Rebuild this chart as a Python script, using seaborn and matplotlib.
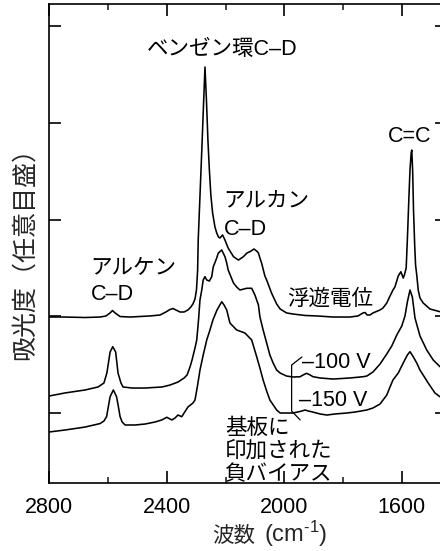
import matplotlib
matplotlib.use("Agg")
import matplotlib.pyplot as plt
from matplotlib.ticker import FixedLocator
import pandas as pd
import seaborn as sns

# IR absorbance spectra of deuterated films, offset vertically (arbitrary units)
# Floating potential
wn_float = [2800, 2747, 2678, 2627, 2607, 2593, 2585, 2576, 2559, 2525, 2457, 2423,
            2403, 2389, 2379, 2369, 2355, 2341, 2328, 2318, 2311, 2304, 2299, 2295,
            2293, 2287, 2280, 2275, 2270, 2265, 2260, 2255, 2250, 2244, 2236, 2230,
            2224, 2219, 2210, 2202, 2191, 2173, 2156, 2139, 2127, 2117, 2103, 2094,
            2088, 2083, 2077, 2066, 2060, 2043, 2026, 2014, 1992, 1970, 1929, 1888,
            1834, 1776, 1749, 1732, 1725, 1718, 1708, 1698, 1674, 1664, 1651, 1640,
            1630, 1623, 1612, 1603, 1595, 1590, 1585, 1581, 1576, 1572, 1568, 1566,
            1563, 1560, 1556, 1553, 1549, 1544, 1538, 1527, 1504, 1470, 1429]
abs_float = [0.992, 0.992, 0.987, 0.992, 1.003, 1.034, 1.059, 1.034, 0.997, 0.992, 1.003, 1.013,
             1.044, 1.070, 1.080, 1.065, 1.044, 1.044, 1.065, 1.096, 1.127, 1.178, 1.271, 1.478,
             1.788, 2.243, 2.780, 3.183, 3.576, 3.235, 2.822, 2.512, 2.253, 2.067, 1.922, 1.860,
             1.819, 1.809, 1.840, 1.788, 1.705, 1.616, 1.581, 1.616, 1.654, 1.667, 1.695, 1.674,
             1.654, 1.602, 1.547, 1.416, 1.375, 1.237, 1.127, 1.075, 1.034, 1.023, 1.008, 1.003,
             0.992, 0.992, 1.003, 1.034, 1.039, 1.013, 1.013, 1.034, 1.065, 1.085, 1.137, 1.209,
             1.271, 1.305, 1.416, 1.460, 1.395, 1.437, 1.499, 1.788, 2.202, 2.512, 2.687, 2.718,
             2.512, 2.098, 1.736, 1.530, 1.426, 1.271, 1.189, 1.137, 1.075, 1.047, 1.039]

# Substrate bias -100 V
wn_100 = [2800, 2747, 2678, 2634, 2614, 2604, 2593, 2584, 2574, 2566, 2556, 2549,
          2518, 2474, 2416, 2389, 2362, 2341, 2331, 2321, 2314, 2304, 2298, 2292,
          2287, 2281, 2276, 2270, 2264, 2255, 2247, 2242, 2230, 2225, 2213, 2202,
          2196, 2191, 2173, 2162, 2151, 2128, 2111, 2100, 2088, 2083, 2072, 2060,
          2049, 2038, 2026, 2014, 1992, 1970, 1946, 1936, 1924, 1912, 1902, 1878,
          1834, 1776, 1732, 1719, 1698, 1674, 1651, 1634, 1617, 1600, 1589, 1581,
          1572, 1564, 1555, 1538, 1515, 1493, 1470, 1429]
abs_100 = [0.176, 0.207, 0.238, 0.269, 0.310, 0.413, 0.630, 0.685, 0.630, 0.413, 0.310, 0.269,
           0.258, 0.258, 0.269, 0.289, 0.320, 0.362, 0.393, 0.475, 0.548, 0.672, 0.755, 0.961,
           1.168, 1.271, 1.375, 1.409, 1.375, 1.364, 1.409, 1.509, 1.602, 1.651, 1.685, 1.616,
           1.550, 1.478, 1.344, 1.302, 1.271, 1.289, 1.289, 1.220, 1.116, 0.995, 0.858, 0.724,
           0.599, 0.517, 0.444, 0.413, 0.382, 0.372, 0.375, 0.393, 0.410, 0.393, 0.375, 0.362,
           0.351, 0.362, 0.375, 0.382, 0.424, 0.506, 0.610, 0.693, 0.806, 0.899, 1.003, 1.147,
           1.271, 1.199, 0.982, 0.796, 0.651, 0.548, 0.479, 0.444]

# Substrate bias -150 V
wn_150 = [2800, 2747, 2678, 2627, 2614, 2605, 2598, 2593, 2582, 2571, 2564, 2559,
          2552, 2542, 2508, 2474, 2440, 2417, 2400, 2383, 2372, 2362, 2349, 2341,
          2328, 2311, 2304, 2295, 2287, 2276, 2264, 2253, 2243, 2229, 2213, 2205,
          2196, 2185, 2162, 2134, 2111, 2094, 2083, 2072, 2060, 2049, 2026, 2014,
          1992, 1970, 1946, 1929, 1919, 1907, 1878, 1855, 1827, 1787, 1759, 1719,
          1698, 1674, 1651, 1640, 1630, 1612, 1595, 1581, 1572, 1561, 1549, 1538,
          1510, 1487, 1470, 1429]
abs_150 = [-0.196, -0.176, -0.145, -0.109, -0.083, -0.038, 0.083, 0.168, 0.238, 0.168, 0.052, -0.038,
           -0.093, -0.124, -0.124, -0.114, -0.093, -0.072, -0.044, -0.072, -0.052, -0.021, -0.038, 0.000,
           0.062, 0.103, 0.134, 0.289, 0.444, 0.599, 0.755, 0.858, 0.961, 1.065, 1.150, 1.116,
           1.065, 0.930, 0.858, 0.827, 0.755, 0.582, 0.465, 0.341, 0.227, 0.134, 0.031, 0.000,
           0.000, 0.000, 0.016, 0.031, 0.021, 0.013, -0.010, -0.021, -0.010, 0.000, 0.010, 0.031,
           0.052, 0.093, 0.186, 0.269, 0.341, 0.413, 0.517, 0.599, 0.634, 0.582, 0.517, 0.444,
           0.310, 0.207, 0.168, 0.145]

series_names = ["float", "m100", "m150"]
x_major = [2800, 2400, 2000, 1600]
x_minor = [2600, 2200, 1800]
y_ticks = [0, 1, 2, 3, 4]

sns.set_theme(style="ticks")
plt.rcParams["font.family"] = ["Liberation Sans", "Noto Sans CJK JP"]
plt.rcParams["mathtext.fontset"] = "custom"
plt.rcParams["mathtext.rm"] = "Liberation Sans"
plt.rcParams["mathtext.default"] = "regular"

df = pd.concat([
    pd.DataFrame({"wn": w, "absorbance": a, "film": n})
    for w, a, n in zip([wn_float, wn_100, wn_150],
                       [abs_float, abs_100, abs_150], series_names)
])

W, H = 440, 551
fig = plt.figure(figsize=(W / 100, H / 100), dpi=100)
ax = fig.add_axes([49.3 / W, 68 / H, 397.7 / W, 479 / H])

sns.lineplot(data=df, x="wn", y="absorbance", hue="film",
             palette={n: "black" for n in series_names},
             estimator=None, sort=False, legend=False, linewidth=1.15, ax=ax)

ax.set_xlim(2800, 1446)
ax.set_ylim(-0.7235, 4.2274)
ax.xaxis.set_major_locator(FixedLocator(x_major))
ax.xaxis.set_minor_locator(FixedLocator(x_minor))
ax.yaxis.set_major_locator(FixedLocator(y_ticks))
ax.set_xticklabels([str(v) for v in x_major])
ax.tick_params(axis="both", which="major", direction="in", length=8.6, width=1.2,
               top=True, right=True, labelsize=15.5, pad=10, colors="black")
ax.tick_params(axis="both", which="minor", direction="in", length=4.3, width=1.2,
               top=True, right=True)
ax.tick_params(axis="y", labelleft=False)
for s in ax.spines.values():
    s.set_linewidth(1.2)
    s.set_color("black")
ax.set_xlabel("")
ax.set_ylabel("")

fs = 15.5
kw = dict(fontsize=fs, ha="left", va="baseline", color="black")
ax.text(2468, 3.700, "ベンゼン環C–D", **kw)
ax.text(1647, 2.801, "C=C", **kw)
ax.text(2207, 2.129, "アルカン", **kw)
ax.text(2207, 1.840, "C–D", **kw)
ax.text(2659, 1.437, "アルケン", **kw)
ax.text(2659, 1.168, "C–D", **kw)
ax.text(1991, 1.121, "浮遊電位", **kw)
ax.text(1941, 0.465, "–100 V", **kw)
ax.text(1950, 0.072, "–150 V", **kw)
ax.text(2202, -0.212, "基板に", **kw)
ax.text(2202, -0.450, "印加された", **kw)
ax.text(2202, -0.693, "負バイアス", **kw)

# bracket tying the two bias labels to the note below
ax.plot([1940, 1975, 1975, 1946], [0.579, 0.496, 0.021, -0.072],
        color="black", linewidth=0.9)

# axis titles
fig.text(25 / W, 1 - 247 / H, "吸光度（任意目盛）", rotation=90,
         ha="center", va="center", fontsize=18)
t1 = fig.text(211.7 / W, 9 / H, "波数", ha="left", va="baseline", fontsize=fs)
ax.annotate(r"(cm$^{\text{-1}}$)", xy=(1, 9 / H), xycoords=(t1, "figure fraction"),
            xytext=(6.5, 0), textcoords="offset points",
            ha="left", va="baseline", fontsize=17, annotation_clip=False)

fig.savefig("out.png", dpi=100)
